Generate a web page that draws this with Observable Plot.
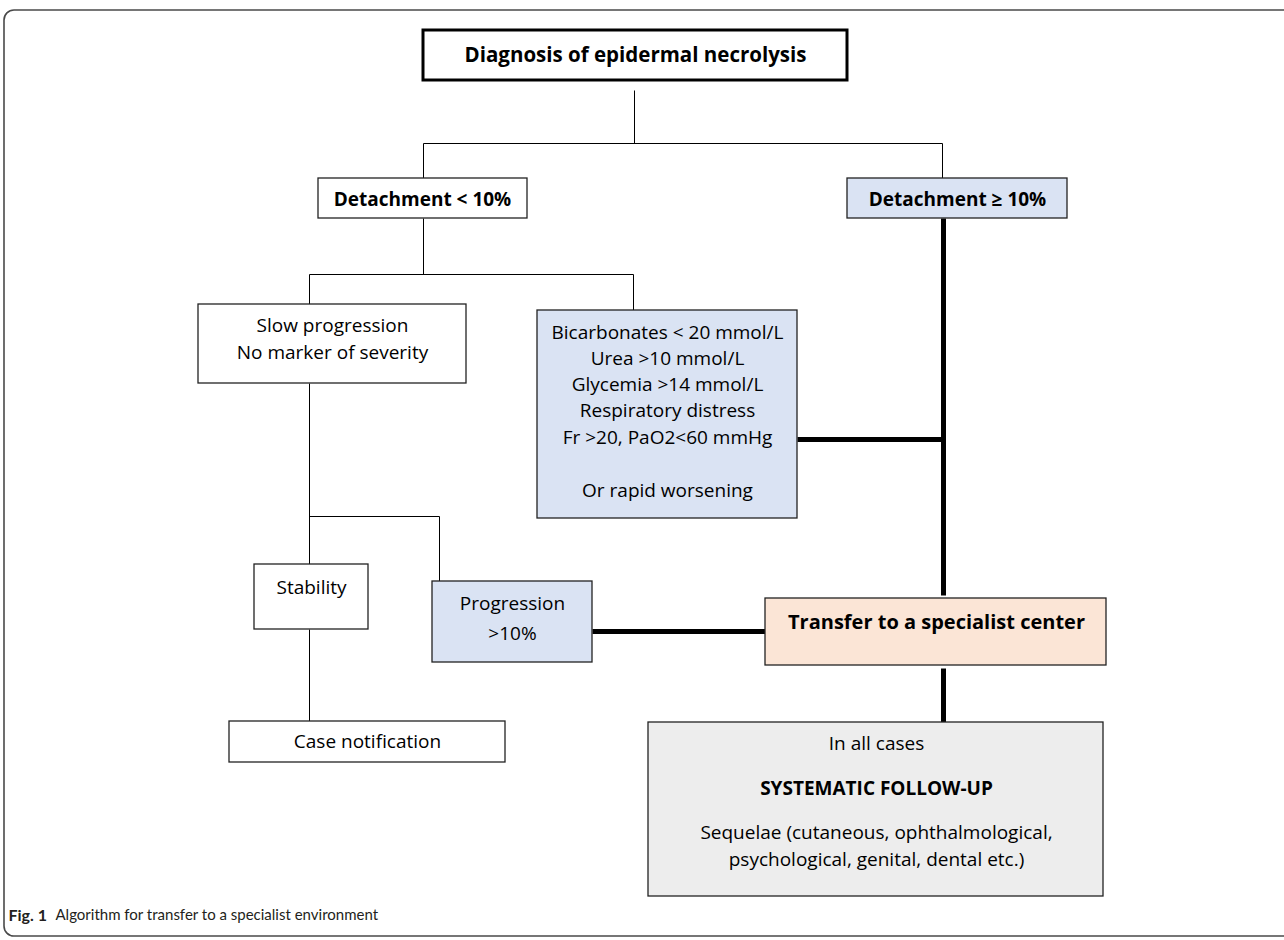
<!DOCTYPE html>
<html>
<head>
<meta charset="utf-8">
<script src="https://cdn.jsdelivr.net/npm/d3@7"></script>
<script src="https://cdn.jsdelivr.net/npm/@observablehq/plot@0.6"></script>
<style>
  html, body { margin: 0; padding: 0; background: #fff; overflow: hidden; }
  #chart { width: 1284px; overflow: hidden; }
  #chart svg { display: block; overflow: hidden; }
</style>
</head>
<body>
<div id="chart"></div>
<script>
// ---- Flowchart nodes (box extents in page units) ----
const boxes = [
  {id: "diag",     x1: 423, x2: 847,  y1: 30,  y2: 80,  fill: "#ffffff"},
  {id: "lt10",     x1: 318, x2: 527,  y1: 178, y2: 218, fill: "#ffffff"},
  {id: "ge10",     x1: 847, x2: 1067, y1: 178, y2: 218, fill: "#dae3f3"},
  {id: "slow",     x1: 198, x2: 466,  y1: 304, y2: 383, fill: "#ffffff"},
  {id: "bicarb",   x1: 537, x2: 797,  y1: 310, y2: 518, fill: "#dae3f3"},
  {id: "stab",     x1: 254, x2: 368,  y1: 564, y2: 629, fill: "#ffffff"},
  {id: "prog",     x1: 432, x2: 592,  y1: 581, y2: 662, fill: "#dae3f3"},
  {id: "transfer", x1: 765, x2: 1106, y1: 598, y2: 665, fill: "#fbe5d6"},
  {id: "case",     x1: 229, x2: 505,  y1: 721, y2: 762, fill: "#ffffff"},
  {id: "final",    x1: 648, x2: 1103, y1: 722, y2: 896, fill: "#ededed"}
];
const mainBox = boxes.filter(d => d.id === "diag");
const otherBoxes = boxes.filter(d => d.id !== "diag");

// ---- Thin connectors ----
const thinLinks = [
  {x1: 634, y1: 90,  x2: 634, y2: 143},
  {x1: 423, y1: 143, x2: 942, y2: 143},
  {x1: 423, y1: 143, x2: 423, y2: 178},
  {x1: 942, y1: 143, x2: 942, y2: 178},
  {x1: 423, y1: 218, x2: 423, y2: 274},
  {x1: 309, y1: 274, x2: 633, y2: 274},
  {x1: 309, y1: 274, x2: 309, y2: 304},
  {x1: 633, y1: 274, x2: 633, y2: 310},
  {x1: 309, y1: 383, x2: 309, y2: 564},
  {x1: 309, y1: 516, x2: 439, y2: 516},
  {x1: 439, y1: 516, x2: 439, y2: 581},
  {x1: 309, y1: 629, x2: 309, y2: 721}
];

// ---- Thick connectors ----
const thickLinks = [
  {x1: 943, y1: 218, x2: 943, y2: 595},
  {x1: 797, y1: 439, x2: 943, y2: 439},
  {x1: 592, y1: 631, x2: 765, y2: 631},
  {x1: 943, y1: 668, x2: 943, y2: 722}
];

// ---- Labels ----
const boldLabels = [
  {x: 635, y: 55,  size: 20.5, text: "Diagnosis of epidermal necrolysis"},
  {x: 422, y: 199, size: 19, text: "Detachment < 10%"},
  {x: 957, y: 199, size: 19, text: "Detachment \u2265 10%"},
  {x: 936, y: 622, size: 20, text: "Transfer to a specialist center"},
  {x: 876, y: 788, size: 19, text: "SYSTEMATIC FOLLOW-UP"}
];
const plainLabels = [
  {x: 332, y: 325, text: "Slow progression"},
  {x: 332, y: 352, text: "No marker of severity"},
  {x: 667, y: 332, text: "Bicarbonates < 20 mmol/L"},
  {x: 667, y: 358, text: "Urea >10 mmol/L"},
  {x: 667, y: 384, text: "Glycemia >14 mmol/L"},
  {x: 667, y: 410, text: "Respiratory distress"},
  {x: 667, y: 437, text: "Fr >20, PaO2<60 mmHg"},
  {x: 667, y: 490, text: "Or rapid worsening"},
  {x: 311, y: 587, text: "Stability"},
  {x: 512, y: 603, text: "Progression"},
  {x: 512, y: 633, text: ">10%"},
  {x: 367, y: 741, text: "Case notification"},
  {x: 876, y: 743, text: "In all cases"},
  {x: 876, y: 832, text: "Sequelae (cutaneous, ophthalmological,"},
  {x: 876, y: 859, text: "psychological, genital, dental etc.)"}
];
const captionBold = [{x: 8, y: 915, text: "Fig. 1"}];
const captionText = [{x: 55, y: 915, text: "Algorithm for transfer to a specialist environment"}];
const frame = [{x1: 4, x2: 1340, y1: 10, y2: 936}];

const FONT = "'Open Sans', 'Noto Sans', sans-serif";
const CAPFONT = "Lato, sans-serif";

const chart = Plot.plot({
  width: 1284,
  height: 940,
  margin: 0,
  x: {domain: [0, 1284], axis: null},
  y: {domain: [0, 940], reverse: true, axis: null},
  color: {type: "identity"},
  marks: [
    Plot.rect(frame, {x1: "x1", x2: "x2", y1: "y1", y2: "y2", rx: 10, fill: "none", stroke: "#4a4a4a", strokeWidth: 1.6}),
    Plot.link(thinLinks, {x1: "x1", y1: "y1", x2: "x2", y2: "y2", stroke: "#000", strokeWidth: 1}),
    Plot.link(thickLinks, {x1: "x1", y1: "y1", x2: "x2", y2: "y2", stroke: "#000", strokeWidth: 5}),
    Plot.rect(otherBoxes, {x1: "x1", x2: "x2", y1: "y1", y2: "y2", fill: "fill", stroke: "#222", strokeWidth: 1.3}),
    Plot.rect(mainBox, {x1: "x1", x2: "x2", y1: "y1", y2: "y2", fill: "fill", stroke: "#000", strokeWidth: 3}),
    Plot.text(boldLabels, {x: "x", y: "y", text: "text", fontSize: d => d.size, fontWeight: "bold", fontFamily: FONT, fill: "#000", textAnchor: "middle", lineAnchor: "middle"}),
    Plot.text(plainLabels, {x: "x", y: "y", text: "text", fontSize: 19, fontFamily: FONT, fill: "#000", textAnchor: "middle", lineAnchor: "middle"}),
    Plot.text(captionBold, {x: "x", y: "y", text: "text", fontSize: 16, fontWeight: "bold", fontFamily: CAPFONT, fill: "#231f20", textAnchor: "start", lineAnchor: "middle"}),
    Plot.text(captionText, {x: "x", y: "y", text: "text", fontSize: 15, fontFamily: CAPFONT, fill: "#231f20", textAnchor: "start", lineAnchor: "middle"})
  ]
});
document.getElementById("chart").append(chart);
</script>
</body>
</html>
